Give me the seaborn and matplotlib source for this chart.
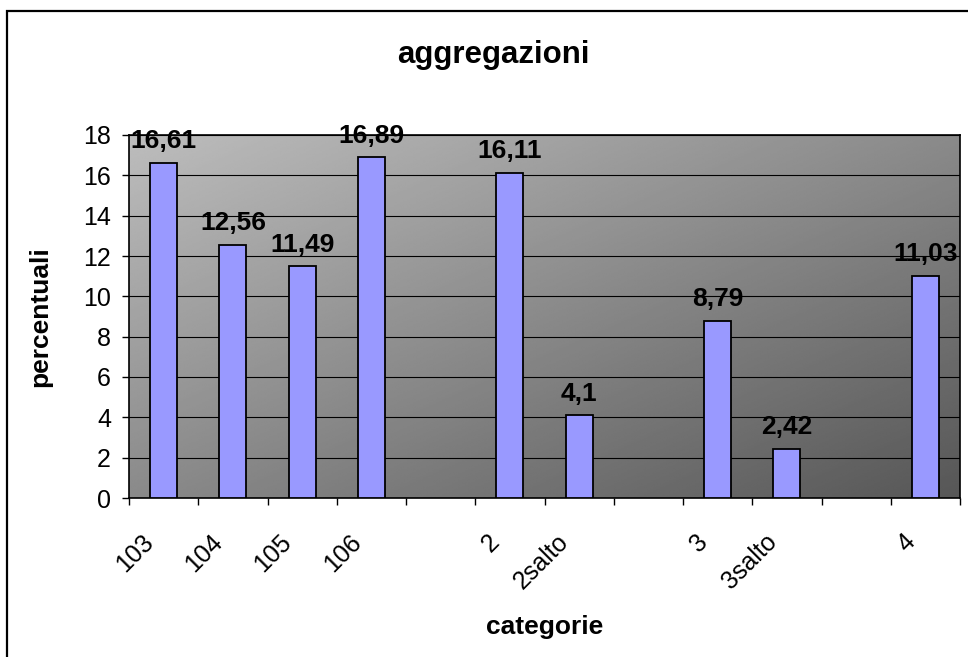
import numpy as np
import pandas as pd
import matplotlib
matplotlib.use("Agg")
import matplotlib.pyplot as plt
import matplotlib.transforms as mtransforms
from matplotlib.patches import Rectangle
from matplotlib.ticker import FixedLocator
import seaborn as sns

# ---- data ----
categories = ["103", "104", "105", "106", "", "2", "2salto", "", "3", "3salto", "", "4"]
values = [16.61, 12.56, 11.49, 16.89, np.nan, 16.11, 4.1, np.nan, 8.79, 2.42, np.nan, 11.03]
y_ticks = [0, 2, 4, 6, 8, 10, 12, 14, 16, 18]
title = "aggregazioni"
x_label = "categorie"
y_label = "percentuali"

sns.set_theme(style="white")
plt.rcParams["font.family"] = ["Liberation Sans", "DejaVu Sans"]
plt.rcParams["text.color"] = "black"
plt.rcParams["axes.labelcolor"] = "black"
plt.rcParams["xtick.color"] = "black"
plt.rcParams["ytick.color"] = "black"

keys = [f"k{i}" for i in range(len(categories))]
df = pd.DataFrame({"key": keys, "value": values}).dropna()

W, H = 968, 657
fig = plt.figure(figsize=(W / 100, H / 100), dpi=100)
fig.patch.set_facecolor("white")
ax = fig.add_axes([129 / W, 1 - 498 / H, (960 - 129) / W, (498 - 135) / H])

# outer chart border (top and left visible)
fig.patches.append(Rectangle((7 / W, -0.05), 1.2, 1 - 11 / H + 0.05, transform=fig.transFigure,
                             fill=False, edgecolor="black", linewidth=1.6, zorder=0))

# gradient plot background: light top-left -> dark bottom-right
n = 256
gx, gy = np.meshgrid(np.linspace(0, 1, n), np.linspace(0, 1, n))
t = (gx + gy) / 2.0  # row 0 is drawn at top (origin='upper')
light, dark = 0.74, 0.34
img = light + (dark - light) * t
ax.imshow(img, cmap="gray", vmin=0, vmax=1, extent=[0, 1, 0, 1], origin="upper",
          transform=ax.transAxes, aspect="auto", zorder=0, interpolation="bilinear")

sns.barplot(data=df, x="key", y="value", order=keys, color="#9999ff", saturation=1,
            width=0.39, edgecolor="black", linewidth=1.3, ax=ax, zorder=3)

for c in ax.containers:
    ax.bar_label(c, labels=[f"{v:g}".replace(".", ",") for v in c.datavalues],
                 padding=7, fontsize=19, fontweight="bold", color="black")

ax.set_xlim(-0.5, len(categories) - 0.5)
ax.set_ylim(0, 18)
ax.set_yticks(y_ticks)
ax.set_yticklabels([str(v) for v in y_ticks], fontsize=18)
ax.yaxis.grid(True, color="black", linewidth=0.8, zorder=1)
ax.set_axisbelow(False)
for gl in ax.get_ygridlines():
    gl.set_zorder(1)

ax.set_xticks(range(len(categories)))
ax.set_xticklabels(categories, fontsize=18, rotation=45, ha="right", va="center",
                   rotation_mode="anchor")
ax.xaxis.set_minor_locator(FixedLocator(np.arange(-0.5, len(categories), 1.0)))
ax.tick_params(axis="x", which="major", length=0, pad=29)
ax.tick_params(axis="x", which="minor", length=5, width=1, color="black", direction="out", bottom=True)
ax.tick_params(axis="y", which="major", length=5, width=1, color="black", direction="out", left=True, pad=8)
offset = mtransforms.ScaledTranslation(-14 / 100, 0, fig.dpi_scale_trans)
for lbl in ax.get_xticklabels():
    lbl.set_transform(lbl.get_transform() + offset)

for s in ax.spines.values():
    s.set_color("black")
    s.set_linewidth(1.2)
    s.set_visible(True)

ax.set_xlabel(x_label, fontsize=19, fontweight="bold", labelpad=0)
ax.xaxis.set_label_coords(0.5, -(627 - 498) / (498 - 135), transform=ax.transAxes)
ax.xaxis.label.set_va("center")
ax.set_ylabel(y_label, fontsize=19, fontweight="bold")
ax.yaxis.set_label_coords(-(129 - 40) / (960 - 129), 0.5)
ax.yaxis.label.set_va("center")

fig.text(493 / W, 1 - 55 / H, title, ha="center", va="center", fontsize=22.5, fontweight="bold",
         color="black")

fig.savefig("out.png", dpi=100, facecolor="white")
